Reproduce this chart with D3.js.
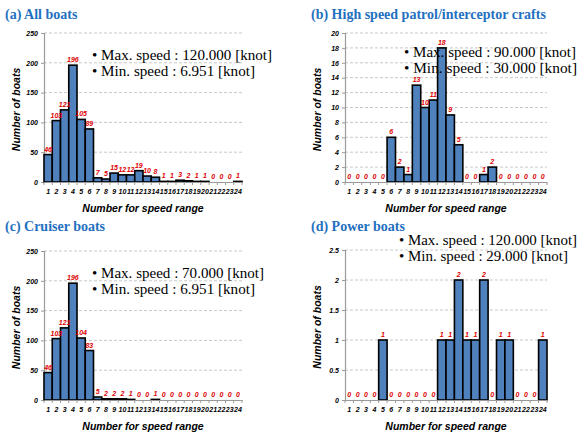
<!DOCTYPE html>
<html>
<head>
<meta charset="utf-8">
<script src="https://cdn.jsdelivr.net/npm/d3@7"></script>
<style>
  html, body { margin: 0; padding: 0; background: #fff; }
  svg { display: block; }
</style>
</head>
<body>
<svg id="chart" width="578" height="434"></svg>
<script>
// Speed range bins 1..24
const speedRanges = d3.range(1, 25).map(String);

// Number of boats in each speed range
const allBoats    = [46, 103, 121, 196, 105, 89, 7, 5, 15, 12, 12, 19, 10, 8, 1, 1, 3, 2, 1, 1, 0, 0, 0, 1];
const patrolBoats = [0, 0, 0, 0, 0, 6, 2, 1, 13, 10, 11, 18, 9, 5, 0, 0, 1, 2, 0, 0, 0, 0, 0, 0];
const cruiserBoats = [46, 103, 121, 196, 104, 83, 5, 2, 2, 2, 1, 0, 0, 1, 0, 0, 0, 0, 0, 0, 0, 0, 0, 0];
const powerBoats  = [0, 0, 0, 0, 1, 0, 0, 0, 0, 0, 0, 1, 1, 2, 1, 1, 2, 0, 1, 1, 0, 0, 0, 1];

// Y-axis tick values per panel
const ticksAll     = [0, 50, 100, 150, 200, 250];
const ticksPatrol  = [0, 2, 4, 6, 8, 10, 12, 14, 16, 18, 20];
const ticksCruiser = [0, 50, 100, 150, 200, 250];
const ticksPower   = [0, 0.5, 1, 1.5, 2, 2.5];

// Panel titles and speed notes
const titles = ["(a) All boats", "(b) High speed patrol/interceptor crafts", "(c) Cruiser boats", "(d) Power boats"];
const maxSpeeds = ["120.000", "90.000", "70.000", "120.000"];
const minSpeeds = ["6.951", "30.000", "6.951", "29.000"];

const svg = d3.select("#chart");

const panels = [
  { values: allBoats,    ticks: ticksAll,     x0: 44,  x1: 242, top: 33,  bottom: 182,
    titleX: 5,   titleY: 19,  noteX: 92,  noteY: 60,  gap: 16, noteW: [180, 163] },
  { values: patrolBoats, ticks: ticksPatrol,  x0: 345, x1: 547, top: 33,  bottom: 182,
    titleX: 311, titleY: 19,  noteX: 404, noteY: 57,  gap: 16, noteW: [172, 173] },
  { values: cruiserBoats, ticks: ticksCruiser, x0: 44,  x1: 242, top: 251, bottom: 400,
    titleX: 5,   titleY: 231, noteX: 92,  noteY: 278, gap: 16, noteW: [172, 163] },
  { values: powerBoats,  ticks: ticksPower,   x0: 345, x1: 547, top: 250, bottom: 400,
    titleX: 311, titleY: 231, noteX: 399, noteY: 245, gap: 16, noteW: [178, 169] }
];

const tickFont = "'Liberation Sans', Arial, sans-serif";
const serif = "'Liberation Serif', 'DejaVu Serif', serif";

panels.forEach((p, i) => {
  const g = svg.append("g");

  const x = d3.scaleBand().domain(speedRanges).range([p.x0, p.x1]).padding(0);
  const yMax = p.ticks[p.ticks.length - 1];
  const y = d3.scaleLinear().domain([0, yMax]).range([p.bottom, p.top]);

  // dashed gridlines
  g.append("g")
    .selectAll("line")
    .data(p.ticks.filter(t => t > 0))
    .join("line")
    .attr("x1", p.x0).attr("x2", p.x1)
    .attr("y1", d => y(d)).attr("y2", d => y(d))
    .attr("stroke", "#c8c8c8")
    .attr("stroke-width", 1)
    .attr("stroke-dasharray", "3,2");

  // y axis
  const yAxis = g.append("g")
    .attr("transform", `translate(${p.x0},0)`)
    .call(d3.axisLeft(y).tickValues(p.ticks).tickSize(3).tickPadding(3)
      .tickFormat(d => String(d)));
  yAxis.select(".domain").attr("stroke", "#9a9a9a").attr("stroke-width", 1.2);
  yAxis.selectAll(".tick line").attr("stroke", "#9a9a9a");
  yAxis.selectAll("text")
    .attr("font-family", tickFont).attr("font-size", 7)
    .attr("font-weight", "bold").attr("font-style", "italic").attr("fill", "#000");

  // bars
  g.append("g")
    .selectAll("rect")
    .data(p.values)
    .join("rect")
    .attr("x", (d, k) => x(speedRanges[k]))
    .attr("y", d => y(d))
    .attr("width", x.bandwidth())
    .attr("height", d => p.bottom - y(d))
    .attr("fill", "#4f81bd")
    .attr("stroke", d => d > 0 ? "#000" : "none")
    .attr("stroke-width", 1.6);

  // x axis
  const xAxis = g.append("g")
    .attr("transform", `translate(0,${p.bottom})`)
    .call(d3.axisBottom(x).tickSize(0).tickPadding(7));
  xAxis.select(".domain").attr("stroke", "#9a9a9a").attr("stroke-width", 1.2);
  xAxis.selectAll("text")
    .attr("font-family", tickFont).attr("font-size", 7)
    .attr("font-weight", "bold").attr("font-style", "italic").attr("fill", "#000");
  // small separators between bins
  g.append("g")
    .selectAll("line")
    .data(d3.range(speedRanges.length + 1))
    .join("line")
    .attr("x1", k => p.x0 + k * x.step()).attr("x2", k => p.x0 + k * x.step())
    .attr("y1", p.bottom).attr("y2", p.bottom + 3)
    .attr("stroke", "#9a9a9a");

  // value labels
  g.append("g")
    .selectAll("text")
    .data(p.values)
    .join("text")
    .attr("x", (d, k) => x(speedRanges[k]) + x.bandwidth() / 2)
    .attr("y", d => y(d) - 3)
    .attr("text-anchor", "middle")
    .attr("font-family", tickFont).attr("font-size", 7)
    .attr("font-weight", "bold").attr("font-style", "italic")
    .attr("fill", "#e00000")
    .text(d => d);

  // axis titles
  g.append("text")
    .attr("transform", `translate(${p.x0 - 24},${(p.top + p.bottom) / 2 + 2}) rotate(-90)`)
    .attr("text-anchor", "middle")
    .attr("font-family", tickFont).attr("font-size", 10.5)
    .attr("font-weight", "bold").attr("font-style", "italic")
    .text("Number of boats");
  g.append("text")
    .attr("x", (p.x0 + p.x1) / 2)
    .attr("y", p.bottom + 30)
    .attr("text-anchor", "middle")
    .attr("font-family", tickFont).attr("font-size", 10.5)
    .attr("font-weight", "bold").attr("font-style", "italic")
    .text("Number for speed range");

  // panel title
  g.append("text")
    .attr("x", p.titleX).attr("y", p.titleY)
    .attr("font-family", serif).attr("font-size", 14)
    .attr("font-weight", "bold")
    .attr("fill", "#1f70c0")
    .text(titles[i]);

  // speed notes
  const notes = [`\u2022 Max. speed : ${maxSpeeds[i]} [knot]`, `\u2022 Min. speed : ${minSpeeds[i]} [knot]`];
  notes.forEach((t, k) => {
    g.append("text")
      .attr("x", p.noteX).attr("y", p.noteY + k * p.gap)
      .attr("font-family", serif).attr("font-size", 14)
      .attr("textLength", p.noteW[k]).attr("lengthAdjust", "spacingAndGlyphs")
      .attr("fill", "#000")
      .text(t);
  });
});
</script>
</body>
</html>
